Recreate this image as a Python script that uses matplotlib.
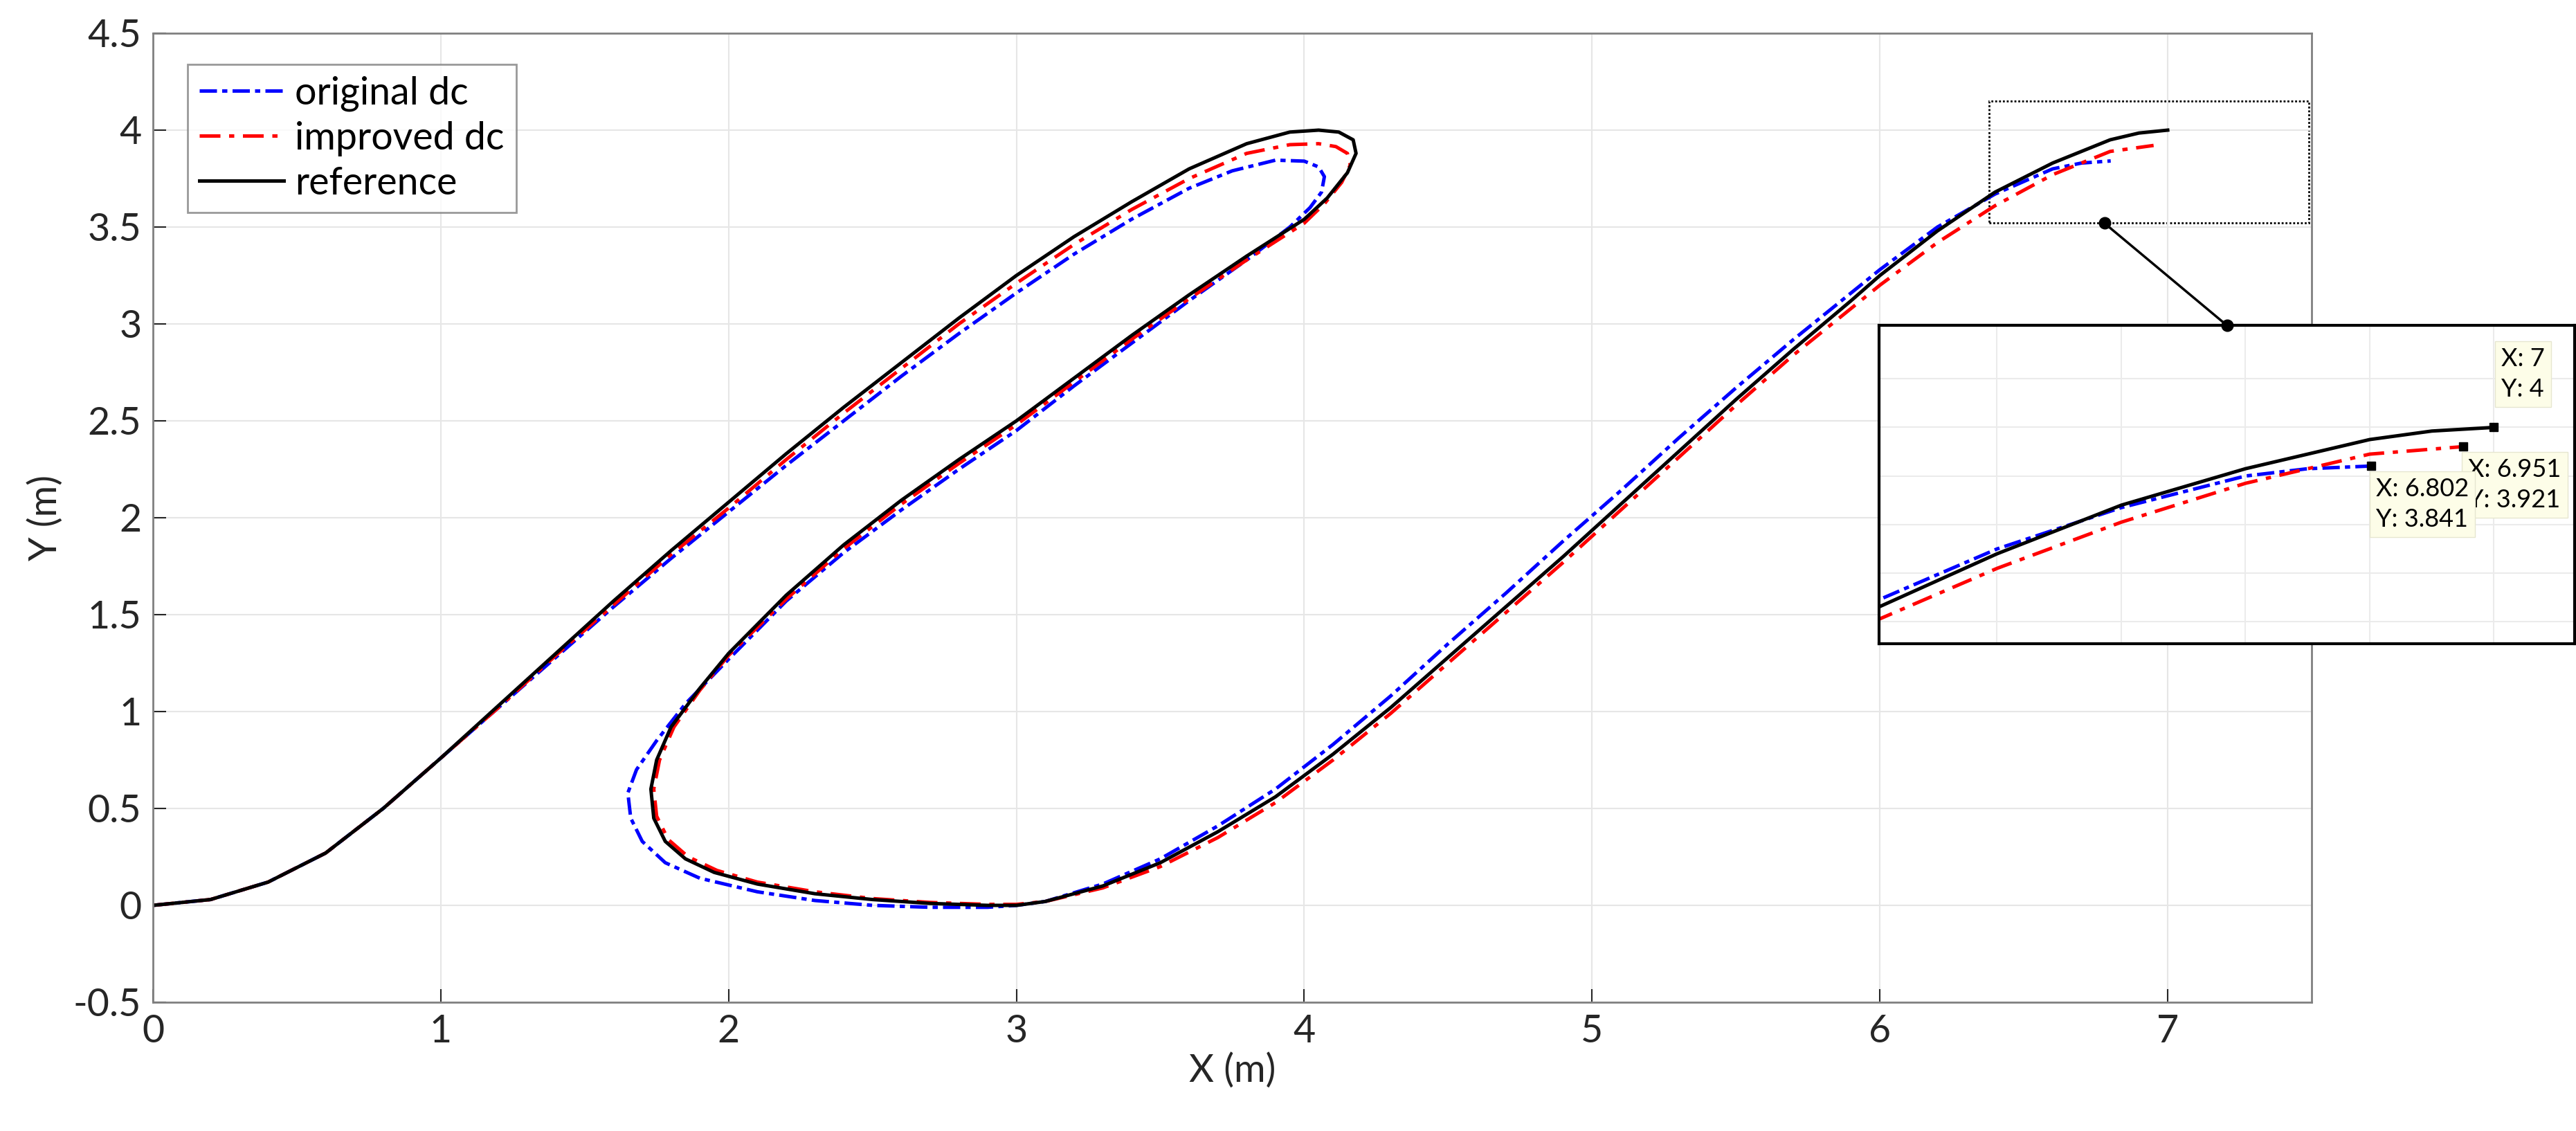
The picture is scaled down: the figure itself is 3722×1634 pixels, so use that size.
import matplotlib
matplotlib.use("Agg")
import matplotlib.pyplot as plt
from matplotlib.patches import Rectangle, ConnectionPatch

ref_x = [0,0.2,0.4,0.6,0.8,1.0,1.2,1.4,1.6,1.8,2.0,2.2,2.4,2.6,2.8,3.0,3.2,3.4,3.6,3.8,3.95,4.05,4.12,4.17,4.18,4.15,4.08,4.0,3.8,3.6,3.4,3.2,3.0,2.8,2.6,2.4,2.2,2.0,1.9,1.8,1.75,1.73,1.74,1.78,1.85,1.95,2.1,2.3,2.5,2.7,2.9,3.0,3.1,3.3,3.5,3.7,3.9,4.1,4.3,4.5,4.7,4.9,5.1,5.3,5.5,5.7,5.9,6.0,6.2,6.4,6.6,6.8,6.9,7.0]
ref_y = [0,0.03,0.12,0.27,0.5,0.76,1.03,1.3,1.57,1.83,2.08,2.33,2.57,2.8,3.03,3.25,3.45,3.63,3.8,3.93,3.99,4.0,3.99,3.95,3.88,3.78,3.65,3.54,3.35,3.15,2.94,2.72,2.5,2.3,2.09,1.86,1.6,1.3,1.12,0.92,0.75,0.6,0.45,0.33,0.24,0.17,0.11,0.06,0.03,0.01,0.0,0.0,0.02,0.1,0.22,0.38,0.56,0.78,1.02,1.28,1.54,1.8,2.07,2.34,2.61,2.87,3.12,3.25,3.48,3.68,3.83,3.95,3.985,4.0]

imp_x = [0,0.2,0.4,0.6,0.8,1.0,1.2,1.4,1.6,1.8,2.0,2.2,2.4,2.6,2.8,3.0,3.2,3.4,3.6,3.8,3.95,4.05,4.11,4.15,4.16,4.13,4.07,4.0,3.8,3.6,3.4,3.2,3.0,2.8,2.6,2.4,2.2,2.0,1.9,1.81,1.76,1.74,1.75,1.79,1.86,1.96,2.1,2.3,2.5,2.7,2.9,3.0,3.1,3.3,3.5,3.7,3.9,4.1,4.3,4.5,4.7,4.9,5.1,5.3,5.5,5.7,5.9,6.0,6.2,6.4,6.6,6.8,6.951]
imp_y = [0,0.03,0.12,0.27,0.5,0.76,1.02,1.29,1.55,1.81,2.05,2.3,2.54,2.77,3.0,3.21,3.41,3.59,3.75,3.88,3.925,3.93,3.915,3.88,3.82,3.73,3.62,3.52,3.33,3.13,2.92,2.7,2.48,2.28,2.07,1.84,1.58,1.29,1.11,0.92,0.75,0.6,0.46,0.34,0.25,0.18,0.12,0.07,0.035,0.015,0.005,0.005,0.02,0.09,0.2,0.35,0.53,0.75,0.99,1.25,1.51,1.77,2.04,2.31,2.58,2.84,3.08,3.2,3.42,3.61,3.77,3.89,3.921]

org_x = [0,0.2,0.4,0.6,0.8,1.0,1.2,1.4,1.6,1.8,2.0,2.2,2.4,2.6,2.8,3.0,3.2,3.4,3.6,3.75,3.9,4.0,4.05,4.07,4.06,4.02,3.95,3.8,3.6,3.4,3.2,3.0,2.8,2.6,2.4,2.2,2.0,1.85,1.75,1.68,1.65,1.66,1.7,1.78,1.9,2.1,2.3,2.5,2.7,2.9,3.0,3.1,3.3,3.5,3.7,3.9,4.1,4.3,4.5,4.7,4.9,5.1,5.3,5.5,5.7,5.9,6.0,6.2,6.4,6.6,6.7,6.802]
org_y = [0,0.03,0.12,0.27,0.5,0.76,1.02,1.28,1.54,1.79,2.03,2.27,2.5,2.73,2.95,3.16,3.36,3.54,3.7,3.79,3.845,3.84,3.81,3.76,3.68,3.6,3.5,3.33,3.12,2.9,2.68,2.45,2.25,2.04,1.82,1.57,1.27,1.04,0.85,0.7,0.58,0.45,0.33,0.22,0.14,0.07,0.025,0.0,-0.01,-0.01,0.0,0.02,0.11,0.24,0.41,0.6,0.83,1.08,1.35,1.61,1.88,2.14,2.41,2.67,2.92,3.16,3.28,3.5,3.67,3.8,3.83,3.841]

xticks = [0,1,2,3,4,5,6,7]
yticks = [-0.5,0,0.5,1,1.5,2,2.5,3,3.5,4,4.5]

plt.rcParams['font.family'] = ['Lato', 'DejaVu Sans']
W, H = 3723, 1634
fig = plt.figure(figsize=(W/100, H/100), dpi=100)
ax = fig.add_axes([221/W, 1-1448/H, (3340-221)/W, (1448-48)/H])

def draw(a, lw=3.6):
    a.plot(org_x, org_y, color='blue', ls=(0, (5, 1.5, 1.5, 1.5)), lw=lw, label='original dc')
    a.plot(imp_x, imp_y, color='red', ls=(0, (6, 2.5, 1.5, 2.5)), lw=lw, label='improved dc')
    a.plot(ref_x, ref_y, color='black', ls='-', lw=lw, label='reference')

draw(ax)
ax.set_xlim(0, 7.5)
ax.set_ylim(-0.5, 4.5)
ax.set_xticks(xticks)
ax.set_yticks(yticks)
ax.set_yticklabels(['-0.5', '0', '0.5', '1', '1.5', '2', '2.5', '3', '3.5', '4', '4.5'])
ax.tick_params(direction='in', length=14, width=1.5, labelsize=40, colors='#262626', pad=12)
ax.grid(True, color='#e6e6e6', lw=1.5)
for s in ax.spines.values():
    s.set_color('#808080'); s.set_linewidth(2)
ax.set_xlabel('X (m)', fontsize=40, color='#262626', labelpad=4)
ax.set_ylabel('Y (m)', fontsize=40, color='#262626', labelpad=10)
leg = ax.legend(loc='upper left', bbox_to_anchor=(0.016, 0.968), fontsize=40, frameon=True,
                fancybox=False, edgecolor='#808080', handlelength=2.2, borderaxespad=0,
                labelspacing=0.25, handletextpad=0.3, borderpad=0.3)
leg.get_frame().set_linewidth(2)

# zoom box
ax.add_patch(Rectangle((6.38, 3.52), 7.49-6.38, 4.15-3.52, fill=False, ls=(0, (1, 1)), lw=2, color='black'))

ins = fig.add_axes([2715/W, 1-930/H, (3720-2715)/W, (930-470)/H])
draw(ins, lw=3.6)
ins.set_xlim(6.01, 7.13)
ins.set_ylim(3.11, 4.42)
ins.set_xticks([6.2, 6.4, 6.6, 6.8, 7.0])
ins.set_yticks([3.2, 3.4, 3.6, 3.8, 4.0, 4.2])
ins.tick_params(length=0, labelbottom=False, labelleft=False)
ins.grid(True, color='#ebebeb', lw=1.5)
for s in ins.spines.values():
    s.set_color('black'); s.set_linewidth(3)

# datatips
tips = [(ref_x[-1], ref_y[-1], (8, 28), 'bottom'), (imp_x[-1], imp_y[-1], (5, -12), 'top'), (org_x[-1], org_y[-1], (5, -12), 'top')]
for x, y, off, va in tips:
    ins.plot([x], [y], 's', color='black', ms=9)
    ins.annotate(f'X: {x:g}\nY: {y:g}', (x, y), xytext=off, textcoords='offset points',
                 fontsize=26, va=va, ha='left', linespacing=1.4,
                 bbox=dict(boxstyle='square,pad=0.25', fc='#fdfde8', ec='#e6e6d0', lw=1))

con = ConnectionPatch(xyA=(6.78, 3.52), coordsA=ax.transData, xyB=(0.5, 1.0), coordsB=ins.transAxes,
                      color='black', lw=2.5)
fig.add_artist(con)
ax.plot([6.78], [3.52], 'o', color='black', ms=12, zorder=5, clip_on=False)
ins.plot([0.5], [1.0], 'o', color='black', ms=12, transform=ins.transAxes, clip_on=False, zorder=6)

fig.savefig('out.png', dpi=100, facecolor='white')
